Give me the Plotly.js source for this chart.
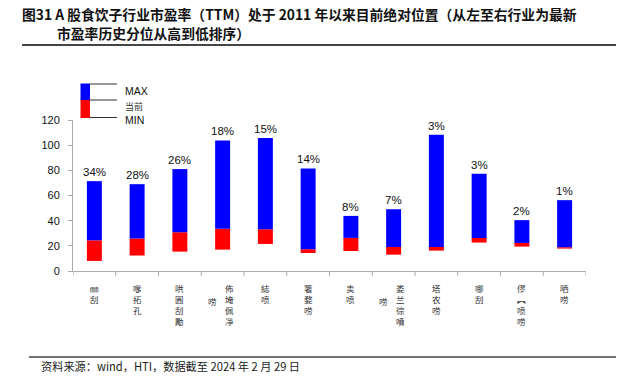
<!DOCTYPE html>
<html><head><meta charset="utf-8">
<script src="https://cdn.plot.ly/plotly-3.0.1.min.js"></script>
<style>body{margin:0;background:#fff}#chart{width:631px;height:389px}</style>
</head><body><div id="chart"></div>
<script>
// ---- data ----
var categories = ["c1","c2","c3","c4","c5","c6","c7","c8","c9","c10","c11","c12"];
// label text per category: main column (right) and secondary column (left)
var labelMain = ["㎜刮","嗲拓孔","哄圓刮勵","佈埯佩凈","綕喷","箸婺唠","卖喷","娄兰徖噴","塔农唠","哪刮","僇︻喷唠","哂唠"];
var labelSecond = ["","","","唠","","","","唠","","","",""];
var maxVals = [71.4, 69.0, 81.0, 103.8, 105.7, 81.5, 43.8, 49.1, 108.3, 77.3, 40.4, 56.3];
var curVals = [24.4, 25.8, 30.8, 33.5, 33.2, 17.3, 26.3, 19.1, 19.1, 26.3, 22.3, 18.9];
var minVals = [8.0, 12.3, 15.4, 17.0, 21.5, 14.3, 15.9, 13.0, 16.2, 22.6, 19.4, 17.8];
var pctLabels = ["34%","28%","26%","18%","15%","14%","8%","7%","3%","3%","2%","1%"];
var yTicks = [0,20,40,60,80,100,120];
var titleLine1 = "图31 A 股食饮子行业市盈率（TTM）处于 2011 年以来目前绝对位置（从左至右行业为最新";
var titleLine2 = "市盈率历史分位从高到低排序）";
var sourceText = "资料来源：wind，HTI，数据截至 2024 年 2 月 29 日";
var legendNames = ["MAX","当前","MIN"];

// ---- geometry helpers (pixel -> paper) ----
var L = 73, R = 586, T = 120, B = 271;
function px(x){ return (x - L) / (R - L); }
function py(y){ return (B - y) / (B - T); }
var idx = categories.map(function(_, i){ return i; });

var redTrace = {
  type: "bar", x: idx, base: minVals,
  y: curVals.map(function(c, i){ return c - minVals[i]; }),
  marker: {color: "#FF0000", line: {width: 0}}, width: 0.35,
  hoverinfo: "skip", showlegend: false
};
var blueTrace = {
  type: "bar", x: idx, base: curVals,
  y: maxVals.map(function(m, i){ return m - curVals[i]; }),
  marker: {color: "#0000FF", line: {width: 0}}, width: 0.35,
  hoverinfo: "skip", showlegend: false
};

var ann = [];
var latin = "Liberation Sans, Arial, sans-serif";
var cjk = "Noto Sans CJK SC, sans-serif";
// percentage labels
pctLabels.forEach(function(t, i){
  ann.push({x: i, y: maxVals[i], xref: "x", yref: "y", text: t, showarrow: false,
    yanchor: "bottom", yshift: 1, font: {family: latin, size: 11.5, color: "#111"}});
});
// vertical category labels (one annotation per column, characters stacked)
var labFont = {family: cjk, size: 8.5, color: "#333"};
labelMain.forEach(function(s, i){
  var chars = Array.from(s);
  var hasSecond = labelSecond[i] !== "";
  var dx = hasSecond ? 6.5 / 42.75 : 0;
  ann.push({x: i + dx, y: py(279.5), xref: "x", yref: "paper", text: chars.join("<br>"),
    showarrow: false, xanchor: "center", yanchor: "top", align: "center", font: labFont});
  if (hasSecond) {
    var sc = Array.from(labelSecond[i]);
    var mid = 285 + 11 * (chars.length - 1) / 2;
    ann.push({x: i - 10 / 42.75, y: py(mid - 1), xref: "x", yref: "paper", text: sc.join("<br>"),
      showarrow: false, xanchor: "center", yanchor: "middle", align: "center", font: labFont});
  }
});
// title
ann.push({x: px(21), y: py(14), xref: "paper", yref: "paper", text: "<b>" + titleLine1 + "</b>",
  showarrow: false, xanchor: "left", yanchor: "middle", borderpad: 0,
  font: {family: cjk, size: 13.8, color: "#111"}});
ann.push({x: px(56), y: py(32.5), xref: "paper", yref: "paper", text: "<b>" + titleLine2 + "</b>",
  showarrow: false, xanchor: "left", yanchor: "middle", borderpad: 0,
  font: {family: cjk, size: 13.8, color: "#111"}});
// source
ann.push({x: px(39), y: py(366), xref: "paper", yref: "paper", text: sourceText,
  showarrow: false, xanchor: "left", yanchor: "middle", font: {family: cjk, size: 11.2, color: "#222"}});
// legend labels
ann.push({x: px(123), y: py(91), xref: "paper", yref: "paper", text: legendNames[0], showarrow: false,
  xanchor: "left", yanchor: "middle", font: {family: latin, size: 10.5, color: "#111"}});
ann.push({x: px(123), y: py(106), xref: "paper", yref: "paper", text: legendNames[1], showarrow: false,
  xanchor: "left", yanchor: "middle", font: {family: cjk, size: 9, color: "#333"}});
ann.push({x: px(123), y: py(120), xref: "paper", yref: "paper", text: legendNames[2], showarrow: false,
  xanchor: "left", yanchor: "middle", font: {family: latin, size: 10.5, color: "#111"}});

var shapes = [
  // title rule
  {type: "line", xref: "paper", yref: "paper", x0: px(22), x1: px(616), y0: py(45), y1: py(45),
    line: {color: "#444", width: 2}},
  // source rule
  {type: "line", xref: "paper", yref: "paper", x0: px(29), x1: px(616), y0: py(357), y1: py(357),
    line: {color: "#444", width: 1.3}},
  // legend boxes
  {type: "rect", xref: "paper", yref: "paper", x0: px(80.5), x1: px(90), y0: py(100), y1: py(83.5),
    fillcolor: "#0000FF", line: {width: 0}},
  {type: "rect", xref: "paper", yref: "paper", x0: px(80.5), x1: px(90), y0: py(118), y1: py(100),
    fillcolor: "#FF0000", line: {width: 0}},
  {type: "line", xref: "paper", yref: "paper", x0: px(90), x1: px(117), y0: py(84), y1: py(84),
    line: {color: "#333", width: 1}},
  {type: "line", xref: "paper", yref: "paper", x0: px(90), x1: px(117), y0: py(100), y1: py(100),
    line: {color: "#333", width: 1}},
  {type: "line", xref: "paper", yref: "paper", x0: px(90), x1: px(117), y0: py(117.5), y1: py(117.5),
    line: {color: "#333", width: 1}}
];

var layout = {
  width: 631, height: 389,
  margin: {l: L, r: 631 - R, t: T, b: 389 - B},
  paper_bgcolor: "#fff", plot_bgcolor: "#fff",
  barmode: "overlay", showlegend: false,
  xaxis: {range: [-0.5, 11.5], tickvals: idx, showticklabels: false, ticks: "",
    showgrid: false, zeroline: false, showline: true, linecolor: "#aaa", linewidth: 1, fixedrange: true},
  yaxis: {range: [0, 120], tickvals: yTicks, ticks: "outside", ticklen: 4, tickcolor: "#aaa",
    showgrid: false, zeroline: false, showline: true, linecolor: "#aaa", linewidth: 1,
    tickfont: {family: latin, size: 11, color: "#111"}, ticklabelstandoff: 6, fixedrange: true},
  annotations: ann, shapes: shapes
};
// boundary tick marks on x axis (between categories), using axis coords
for (var i = 0; i <= categories.length; i++) {
  layout.shapes.push({type: "line", xref: "x", yref: "paper", x0: i - 0.5, x1: i - 0.5,
    y0: 0, y1: py(B + 5), line: {color: "#aaa", width: 1}});
}
Plotly.newPlot("chart", [redTrace, blueTrace], layout, {displayModeBar: false, staticPlot: true});
</script></body></html>
